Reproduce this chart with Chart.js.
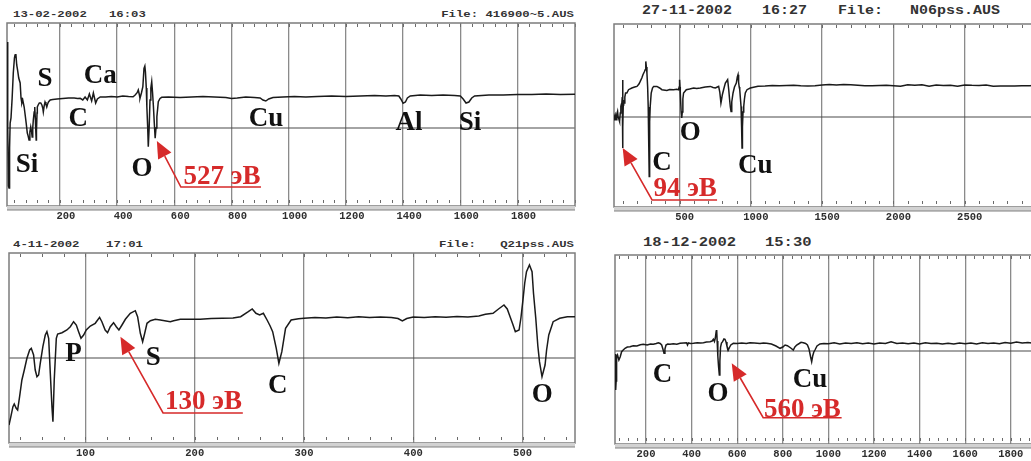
<!DOCTYPE html>
<html><head><meta charset="utf-8">
<script src="https://cdn.jsdelivr.net/npm/chart.js@4.4.1/dist/chart.umd.min.js"></script>
<style>
html,body{margin:0;padding:0;background:#fff;}
body{width:1031px;height:461px;overflow:hidden;position:relative;}
canvas{position:absolute;}
.hd{position:absolute;font-family:"Liberation Mono","DejaVu Sans Mono",monospace;font-weight:bold;color:#333;white-space:pre;line-height:1;transform:scaleY(0.8);}
.s{font-size:12.3px;}
.b{font-size:15px;}
</style></head><body>
<div class="hd s" style="left:13px;top:9px;">13-02-2002   16:03</div>
<div class="hd s" style="right:457px;top:9px;">File: 416900~5.AUS</div>
<div class="hd b" style="left:642px;top:4px;">27-11-2002</div>
<div class="hd b" style="left:762px;top:4px;">16:27</div>
<div class="hd b" style="left:838px;top:4px;">File:</div>
<div class="hd b" style="left:910px;top:4px;">N06pss.AUS</div>
<div class="hd s" style="left:13px;top:239px;">4-11-2002</div>
<div class="hd s" style="left:106px;top:239px;">17:01</div>
<div class="hd s" style="left:439px;top:239px;">File:</div>
<div class="hd s" style="right:457px;top:239px;">Q21pss.AUS</div>
<div class="hd b" style="left:643px;top:236px;font-size:15.5px;">18-12-2002</div>
<div class="hd b" style="left:765px;top:236px;font-size:15.5px;">15:30</div>

<canvas id="c1" width="576" height="207" style="left:3px;top:19px;"></canvas>
<canvas id="c2" width="430" height="207" style="left:610px;top:20px;"></canvas>
<canvas id="c3" width="574" height="214" style="left:5px;top:249px;"></canvas>
<canvas id="c4" width="438" height="213" style="left:611px;top:251px;"></canvas>
<script>
// ---------- Panel 1 : 13-02-2002 ----------
const p1Energy = [16,17,18,19,20,22,24,26,29,33,
37,41,43,46,49,52,56,61,64,67,
70,75,79,82,86,89,92,95,98,101,
103,105,107,110,112,114,116,117,118,120,
121,124,128,133,137,140,142,145,148,151,
154,157,160,166,175,190,210,230,250,262,
271,280,288,296,303,311,317,325,331,341,
360,380,400,420,440,456,463,470,474,478,
480,485,490,494,497,499,502,504,507,509,
512,515,518,521,524,527,530,533,536,539,
542,544,550,556,580,620,660,700,740,780,
800,820,850,880,900,910,920,930,945,980,
1020,1060,1100,1150,1200,1250,1300,1340,1370,1385,
1392,1400,1408,1415,1425,1460,1500,1540,1580,1600,
1610,1620,1630,1640,1650,1700,1750,1800,1850,1900,
1950,2001];
const p1Signal = [86,80,0,-30,-58,-60,-20,5,10,30,
55,70,73,74,63,58,50,45,30,25,
28,21,12,5,-5,-8,-12,-4,1,-4,
-9,0,8,16,21,10,-5,-12,-3,15,
21,23,25,25,23,20,16,22,26,24,
21,24,26,28,28.5,29,29.5,30,30,29.5,
29.7,28,31,28,34,27,35,25,29,31,
31,31.5,31,32,31.5,31.3,33,35.3,38,33,
29.7,35,41.3,59.7,62,56.3,40,21.3,0,-18.7,
0,28,40,46.3,35,21.3,5,-10.3,0,11.3,
20,26.3,29.5,30.7,31,30.5,31,31.5,31,30.5,
29.5,30,31,30.5,30,28,27,29,30.5,31,
31.5,31,31.5,32,31.5,32,32.5,32,32.5,32,
29,24.7,26,30,32,33,32.5,33,32.5,32,
29,25,26,30,32,33,33,33.5,33.5,34,
33.5,33.7];
const p1Ticks = [200,400,600,800,1000,1200,1400,1600,1800];
const p1Marks = ['S','Ca','C','Si','O','Cu','Al','Si'];
const p1MarkE = [148,341,264,85,487,921,1421,1634];
const p1MarkV = [51,54,11,-35,-39,11,7,7];
const p1Note = '527 эВ';
const p1NotePos = [767,-47];          // text centre (eV, signal)
const p1Arrow = [539,-13, 623,-59, 903];   // tip e,v ; tail e,v ; underline end e

// ---------- Panel 2 : 27-11-2002 ----------
const p2Energy = [40,45,48,52,55,60,65,69,72,76,
79,84,88,92,95,98,100,101,102,103,
105,108,112,116,121,130,142,165,185,201,
215,224,235,243,252,259,262,264,267,271,
276,280,283,285,287,289,291,294,301,310,
318,341,360,376,411,430,458,480,493,497,
500,503,505,511,515,519,523,528,547,570,
599,620,645,680,716,735,751,765,774,782,
790,795,800,810,821,837,845,851,856,861,
866,875,885,898,905,910,914,918,922,927,
931,935,938,941,945,950,955,961,973,996,
1050,1100,1150,1200,1250,1300,1350,1400,1450,1500,
1550,1600,1650,1700,1750,1800,1850,1900,1950,2000,
2050,2100,2150,2200,2250,2300,2350,2400,2450,2500,
2550,2600,2650,2700,2750,2800,2850,2900,2950,3000];
const p2Signal = [-2.7,1,2.3,-1,-2.7,3,5.6,0,-1,-3,
-4.4,4,10.6,13,14,20,37,20,-31,-10,
12,17,14,20,24,24,27.3,29,30,30.6,
33,35.6,39,42.3,45,47.3,52,55.6,50,44,
30,10,0.6,-30,-59.4,-30,-5,10.6,24,29,
30.6,30.6,29,27.3,26.6,27.5,27.3,27.8,27.3,30,
37.3,30,24,5,-1,5,18,24,27.3,28,
29,28.5,29,30,30.6,29.5,29,30,30.6,25,
14,18,22.3,28,34,37.3,27,17.3,10,5.6,
15,24,30,34,40,42.3,35,30,27.3,18,
10.6,-10,-31,-10,5,10.6,18,24,27.3,29,
30.8,31.0,31.5,31.2,31.6,31.8,31.3,31.0,31.2,31.9,
32.5,32.0,32.6,32.2,31.8,31.3,31.2,31.6,31.7,31.2,
30.8,32.3,31.8,32.2,30.8,32.0,31.6,31.8,30.7,32.0,
31.7,31.6,31.9,30.8,31.0,31.1,30.9,31.2,31.3,31.4];
const p2Ticks = [500,1000,1500,2000,2500];
const p2Marks = ['O','C','Cu'];
const p2MarkE = [574,377,1030];
const p2MarkV = [-14,-44,-47];
const p2Note = '94 эВ';
const p2NotePos = [539,-70];
const p2Arrow = [101,-31, 307,-83, 763];

// ---------- Panel 3 : 4-11-2002 ----------
const p3Energy = [30,31.7,33.6,34.8,36.6,37.9,39.7,41.8,44,46.4,
48.9,50.4,52.5,54,55.6,57.1,58.6,61,63.2,64.7,
66.3,67.8,69.3,70.2,71.4,73.3,74.5,78.5,83,86.1,
89.1,91.6,93.7,95.9,98.3,100.7,104.4,108.9,112.9,115,
118,120.2,122.7,125.7,128.2,130.6,133.4,136.5,141,145.6,
147.7,150.2,152.3,154.2,156.3,159.4,163.9,168.5,177.6,180.7,
186.8,195,205,215,225,235,242,249,252.6,256,
259.4,262.8,266.2,269,271.3,274.6,277,279.7,283.1,288.2,
295,300,310,320,330,340,350,360,370,380,
386,390,394,400,410,420,430,440,450,460,
466,473,478,483,486,488,491,493.4,496.8,498.5,
500.2,502,503.6,506.3,508.7,510,512.1,514,515.5,517.8,
520.6,522,524,528,534,541,548];
const p3Signal = [-67,-58.7,-48.7,-46,-50.3,-52,-38.7,-22,-12,-0.3,
8,9.7,3,-12,-18.7,-17,-5.3,11.3,23,26.3,
19.7,-15.3,-48.7,-63.7,-22,19.7,24,25.3,28,31.3,
36.3,33,26.3,19.7,23,28,32,34.7,40.7,36.3,
28,25.3,31.3,35.3,31.3,28,33,38.7,44.7,47.3,
41.3,24.7,16.3,24.7,34.7,37.3,38.7,38,36.3,37.3,
38.7,38.7,38.7,39.5,39.7,40,41.3,46.3,49,44.7,
43,44.7,38,32,26.3,9.7,-5.3,6.3,29.7,38,
39.3,39.7,40.5,40,41,40.3,41.2,40.5,41,40.6,
39.5,37,39.5,41,40.6,41.3,40.8,41.5,41,42,
43.7,44.7,49,53,49,43,34,26.3,28,40,
56.3,75,86.3,93,86.3,65,39.7,12,-3.7,-18.7,
-7,8,23,36.3,39.7,41.3,41.3];
const p3Ticks = [100,200,300,400,500];
const p3Marks = ['P','S','C','O'];
const p3MarkE = [89,162,276,518];
const p3MarkV = [6,2.5,-25.5,-34.5];
const p3Note = '130 эВ';
const p3NotePos = [208,-42];
const p3Arrow = [132,21.3, 171,-55, 244];

// ---------- Panel 4 : 18-12-2002 ----------
const p4Energy = [65,67,69,71,75,81,87,93,100,108,
118,130,144,160,175,188,205,220,232,245,
254,262,268.7,274,279,283,287.7,295,305,320,
335,349,365,378,382,386,395,408,425,440,
452,465,481,490,495.4,500,504,508,510,512,
515,518,521.6,524,527,531,536,542,546.5,551,
555,561,566,572,583,600,620,640,656,675,
700,715,729,750,770,788,800,810,820,835,
846,853,861,872,880,890,900,908,915,922,
926.6,931,936,941,950,963,980,1000,1025,1050,
1075,1100,1125,1150,1175,1200,1225,1250,1275,1300,
1325,1350,1375,1400,1425,1450,1475,1500,1525,1550,
1575,1600,1625,1650,1675,1700,1725,1750,1775,1800,
1825,1850,1875,1900,1925,1950];
const p4Signal = [-3,-39,-30,-6,-4,-9,-5.7,-0.7,1,2.7,
4,4.3,5.3,5,6.3,6.7,6,7,6.7,7.5,
8.3,7.5,6,2,-2.3,2,6,7,6.7,7.3,
6.8,7.7,8,8.3,6,8,7.5,7.7,8.2,8,
8.3,9,9.3,10,11.7,9.5,13,20,21,10,
-5,-15,-24,-10,4,8,9.3,12,11.7,9,
5,1,3.5,6,7.7,7.5,8,7.5,8.3,8,
7.5,8,7.7,7,5,2.7,4,6,5.3,3,
1,4,6,7.5,8.7,8.3,7.5,6,2,-6,
-10.7,-5,-1,1,5,7,7.5,7.3,8.2,7.0,
8.0,7.4,8.3,7.2,7.9,7.1,8.1,7.5,9.3,7.6,
8.0,7.2,7.9,7.0,8.2,7.4,7.8,6.9,7.7,7.1,
8.0,7.3,7.9,7.0,8.3,7.5,8.1,7.2,8.6,7.7,
9.0,7.9,8.4,7.8,8.5,8.0];
const p4Ticks = [200,400,600,800,1000,1200,1400,1600,1800];
const p4Marks = ['C','O','Cu'];
const p4MarkE = [272,516,919];
const p4MarkV = [-21.5,-41,-26.5];
const p4Note = '560 эВ';
const p4NotePos = [886,-56.5];
const p4Arrow = [576,-12.3, 714,-66.7, 1058];

// ---------- drawing helpers ----------
const RED = '#d62a2a';
const spectrumPlugin = {
  id: 'spectrum',
  beforeDatasetsDraw(chart, args, o) {
    const {ctx, chartArea: ca, scales: {x, y}} = chart;
    ctx.save();
    const y0 = y.getPixelForValue(0);
    ctx.strokeStyle = '#4a4a4a'; ctx.lineWidth = 1.1;
    ctx.beginPath(); ctx.moveTo(ca.left, y0); ctx.lineTo(ca.right, y0); ctx.stroke();
    ctx.strokeStyle = '#6a6a6a'; ctx.lineWidth = 1;
    ctx.beginPath();
    for (let v = Math.ceil(x.min / o.minor) * o.minor; v <= x.max; v += o.minor) {
      const px = Math.round(x.getPixelForValue(v)) + 0.5;
      ctx.moveTo(px, ca.top + 1); ctx.lineTo(px, ca.top + 4);
      ctx.moveTo(px, ca.bottom - 6); ctx.lineTo(px, ca.bottom - 3);
    }
    ctx.stroke();
    ctx.strokeStyle = '#7c7c7c'; ctx.lineWidth = 1.5;
    ctx.strokeRect(ca.left, ca.top, ca.right - ca.left, ca.bottom - ca.top);
    ctx.fillStyle = '#d2d2d2';
    ctx.fillRect(ca.left, ca.bottom, ca.right - ca.left, 4);
    ctx.strokeStyle = '#808080'; ctx.lineWidth = 1.2;
    ctx.beginPath(); ctx.moveTo(ca.left, ca.bottom + 4); ctx.lineTo(ca.right, ca.bottom + 4); ctx.stroke();
    ctx.restore();
  },
  afterDatasetsDraw(chart, args, o) {
    const {ctx, scales: {x, y}} = chart;
    ctx.save();
    ctx.textAlign = 'center'; ctx.textBaseline = 'alphabetic';
    ctx.font = 'bold 27px "Liberation Serif", "Times New Roman", serif';
    ctx.fillStyle = '#111';
    o.marks.forEach((t, i) => {
      ctx.fillText(t, x.getPixelForValue(o.markE[i]), y.getPixelForValue(o.markV[i]) + 9);
    });
    ctx.fillStyle = RED;
    ctx.fillText(o.note, x.getPixelForValue(o.notePos[0]), y.getPixelForValue(o.notePos[1]) + 9);
    const a = o.arrow;
    const tx = x.getPixelForValue(a[0]), ty = y.getPixelForValue(a[1]);
    const sx = x.getPixelForValue(a[2]), sy = y.getPixelForValue(a[3]);
    const ex = x.getPixelForValue(a[4]);
    const ang = Math.atan2(ty - sy, tx - sx);
    const L = 17, W = 7.5;
    const bx = tx - L * Math.cos(ang), by = ty - L * Math.sin(ang);
    ctx.strokeStyle = RED; ctx.lineWidth = 1.6;
    ctx.beginPath(); ctx.moveTo(ex, sy); ctx.lineTo(sx, sy); ctx.lineTo(bx, by); ctx.stroke();
    ctx.beginPath();
    ctx.moveTo(tx, ty);
    ctx.lineTo(bx + W * Math.sin(ang), by - W * Math.cos(ang));
    ctx.lineTo(bx - W * Math.sin(ang), by + W * Math.cos(ang));
    ctx.closePath(); ctx.fill();
    ctx.restore();
  }
};

function makeChart(id, energy, signal, ticks, xmin, xmax, ymin, ymax, minor, labelOffset, marks, markE, markV, note, notePos, arrow) {
  const pts = energy.map((e, i) => ({x: e, y: signal[i]}));
  return new Chart(document.getElementById(id), {
    type: 'line',
    data: {datasets: [{data: pts, borderColor: '#1a1a1a', borderWidth: 1.5, pointRadius: 0, tension: 0, fill: false}]},
    options: {
      responsive: false, animation: false, devicePixelRatio: 1,
      layout: {padding: {left: 4, right: 4, top: 4, bottom: 0}, autoPadding: false},
      plugins: {
        legend: {display: false}, tooltip: {enabled: false},
        spectrum: {minor, marks, markE, markV, note, notePos, arrow}
      },
      scales: {
        x: {
          type: 'linear', min: xmin, max: xmax,
          border: {display: false},
          grid: {color: '#8a8a8a', lineWidth: 1.3, drawTicks: false},
          afterBuildTicks: (axis) => { axis.ticks = ticks.map(v => ({value: v})); },
          ticks: {
            autoSkip: false, maxRotation: 0, padding: 4, labelOffset,
            color: '#2e2e2e', font: {family: '"Liberation Mono", monospace', weight: 'bold', size: 10.5},
            callback: v => String(v)
          },
          afterFit: (axis) => { axis.height = 20; }
        },
        y: {display: false, min: ymin, max: ymax}
      }
    },
    plugins: [spectrumPlugin]
  });
}

makeChart('c1', p1Energy, p1Signal, p1Ticks, 15, 2001, -78, 105, 40, 6, p1Marks, p1MarkE, p1MarkV, p1Note, p1NotePos, p1Arrow);
makeChart('c2', p2Energy, p2Signal, p2Ticks, 40, 3000, -90, 93, 100, 5, p2Marks, p2MarkE, p2MarkV, p2Note, p2NotePos, p2Arrow);
makeChart('c3', p3Energy, p3Signal, p3Ticks, 30, 548, -85, 105, 20, 0, p3Marks, p3MarkE, p3MarkV, p3Note, p3NotePos, p3Arrow);
makeChart('c4', p4Energy, p4Signal, p4Ticks, 64, 1950, -93, 96, 40, 0, p4Marks, p4MarkE, p4MarkV, p4Note, p4NotePos, p4Arrow);
</script>
</body></html>
